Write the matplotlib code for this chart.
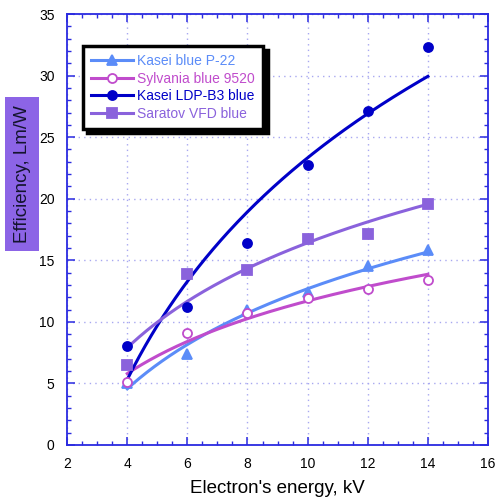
import numpy as np
import matplotlib
matplotlib.use("Agg")
import matplotlib.pyplot as plt
from matplotlib.lines import Line2D
from matplotlib.ticker import MultipleLocator

plt.rcParams['font.family'] = ['Liberation Sans', 'DejaVu Sans']

energy = [4, 6, 8, 10, 12, 14]
kasei_p22 = [5.0, 7.4, 11.0, 12.4, 14.5, 15.8]
sylvania = [5.1, 9.1, 10.7, 11.9, 12.7, 13.4]
kasei_ldp = [8.0, 11.2, 16.4, 22.7, 27.1, 32.3]
saratov = [6.5, 13.9, 14.2, 16.7, 17.1, 19.6]

names = ["Kasei blue P-22", "Sylvania blue 9520", "Kasei LDP-B3 blue", "Saratov VFD blue"]
series = [kasei_p22, sylvania, kasei_ldp, saratov]
colors = ["#5b8cf8", "#c04ccc", "#0000c8", "#8a62dc"]
markers = ["^", "o", "o", "s"]
mfaces = ["#5b8cf8", "white", "#0000c8", "#8a62dc"]

fig = plt.figure(figsize=(5.01, 5.0), dpi=100)
ax = fig.add_axes([0.134, 0.11, 0.840, 0.862])

x = np.array(energy, dtype=float)
xf = np.linspace(4, 14, 200)
handles = []
for name, y, c, m, mf in zip(names, series, colors, markers, mfaces):
    b, a = np.polyfit(np.log(x), np.array(y), 1)
    ax.plot(xf, a + b * np.log(xf), color=c, lw=2.2, zorder=3)
    ax.plot(x, y, linestyle='none', marker=m, ms=6.5, mfc=mf, mec=c, mew=1.3, zorder=4)
    handles.append(Line2D([], [], color=c, lw=2.2, marker=m, ms=6.5, mfc=mf, mec=c, mew=1.3))

ax.set_xlim(2, 16)
ax.set_ylim(0, 35)
ax.xaxis.set_major_locator(MultipleLocator(2))
ax.xaxis.set_minor_locator(MultipleLocator(0.5))
ax.yaxis.set_major_locator(MultipleLocator(5))
ax.yaxis.set_minor_locator(MultipleLocator(1))

spine_c = "#2a2ae0"
for s in ax.spines.values():
    s.set_color(spine_c)
    s.set_linewidth(1.3)
ax.tick_params(which='both', direction='in', top=True, right=True, color=spine_c,
               labelsize=10, labelcolor='black')
ax.tick_params(which='major', length=6, width=1.1, pad=9)
ax.tick_params(which='minor', length=3, width=1.0)
ax.grid(True, which='major', linestyle=(0, (1, 3)), color='#a8a8f0', linewidth=1.0, zorder=0)
ax.set_axisbelow(True)

ax.set_xlabel("Electron's energy, kV", fontsize=13.5, labelpad=6)

fig.text(0.044, 0.652, "Efficiency, Lm/W", rotation=90, fontsize=13.5, ha='center', va='center',
         color='#14142e',
         bbox=dict(boxstyle='square,pad=0.45', facecolor='#8c64e6', edgecolor='none'))

leg = ax.legend(handles, names, loc='upper left', bbox_to_anchor=(0.038, 0.926),
                borderaxespad=0, fontsize=10,
                handlelength=3.0, handletextpad=0.3, labelspacing=0.25, borderpad=0.6,
                fancybox=False, framealpha=1, edgecolor='black',
                shadow={'ox': 3, 'oy': -3, 'color': 'black', 'alpha': 1})
leg.get_frame().set_linewidth(2.5)
for t, c in zip(leg.get_texts(), colors):
    t.set_color(c)

fig.savefig("out.png", dpi=100)
